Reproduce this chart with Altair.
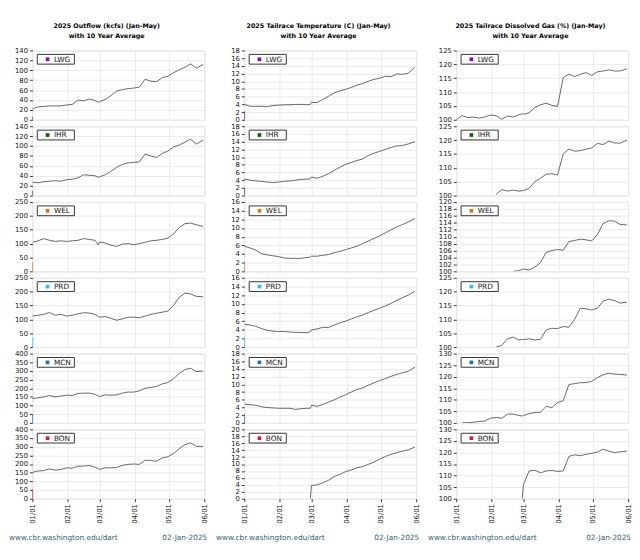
import altair as alt
import pandas as pd

DATES = ["2025-01-01", "2025-01-06", "2025-01-11", "2025-01-16", "2025-01-21", "2025-01-26", "2025-01-31",
         "2025-02-05", "2025-02-10", "2025-02-15", "2025-02-20", "2025-02-25", "2025-02-28",
         "2025-03-01", "2025-03-06", "2025-03-11", "2025-03-16", "2025-03-21", "2025-03-26", "2025-03-31",
         "2025-04-05", "2025-04-10", "2025-04-15", "2025-04-20", "2025-04-25", "2025-04-30",
         "2025-05-05", "2025-05-10", "2025-05-15", "2025-05-20", "2025-05-25", "2025-05-31"]

SITES = ["LWG", "IHR", "WEL", "PRD", "MCN", "BON"]
SITE_COLORS = ["#9400d3", "#006400", "#e8700a", "#1ec0ff", "#1a6fb5", "#dc143c"]

N = None
OUT_LWG = [22, 26, 27, 28, 28, 28, 30, 31, 40, 38, 42, 39, 35, 37, 41, 49, 58, 61, 63, 64, 66, 82, 78, 77, 85, 88, 95, 101, 106, 113, 104, 112]
OUT_IHR = [27, 26, 28, 29, 30, 29, 32, 33, 36, 42, 41, 40, 37, 38, 42, 49, 57, 63, 66, 67, 68, 84, 80, 77, 85, 90, 98, 102, 108, 114, 104, 112]
OUT_WEL = [105, 110, 118, 112, 108, 110, 108, 110, 112, 118, 115, 112, 95, 106, 102, 94, 90, 98, 100, 96, 100, 105, 110, 112, 115, 120, 135, 158, 172, 174, 168, 162]
OUT_PRD = [112, 115, 118, 125, 115, 118, 112, 115, 120, 124, 123, 118, 110, 108, 110, 104, 97, 102, 108, 108, 106, 112, 118, 122, 126, 130, 150, 180, 195, 192, 183, 182]
OUT_MCN = [140, 145, 150, 158, 150, 155, 160, 158, 170, 172, 172, 165, 155, 152, 162, 160, 162, 172, 178, 178, 185, 200, 205, 210, 225, 233, 255, 285, 308, 315, 296, 300]
OUT_BON = [152, 160, 162, 172, 165, 168, 178, 176, 188, 188, 192, 182, 172, 170, 178, 178, 180, 192, 198, 200, 198, 222, 220, 216, 235, 242, 260, 288, 312, 322, 302, 302]

TEMP_LWG = [4.0, 3.5, 3.5, 3.5, 3.4, 3.7, 3.8, 3.9, 3.9, 4.0, 4.0, 3.9, 4.0, 4.5, 4.5, 5.3, 6.1, 7.0, 7.5, 7.9, 8.4, 9.0, 9.4, 10.0, 10.5, 10.8, 11.3, 11.2, 11.9, 11.8, 12.1, 13.6]
TEMP_IHR = [4.3, 4.0, 3.8, 3.7, 3.5, 3.4, 3.5, 3.7, 3.8, 4.0, 4.2, 4.3, 4.3, 4.8, 4.5, 5.0, 5.7, 6.5, 7.4, 8.1, 8.6, 9.1, 9.5, 10.4, 11.0, 11.5, 12.0, 12.5, 12.9, 13.0, 13.4, 14.0]
TEMP_WEL = [5.8, 5.4, 4.9, 4.1, 3.8, 3.6, 3.4, 3.1, 3.0, 3.0, 3.0, 3.2, 3.3, 3.5, 3.5, 3.7, 3.9, 4.3, 4.6, 5.0, 5.4, 5.8, 6.4, 7.0, 7.6, 8.2, 8.9, 9.6, 10.3, 10.8, 11.4, 12.2]
TEMP_PRD = [5.3, 5.1, 4.8, 4.3, 3.9, 3.7, 3.6, 3.6, 3.5, 3.4, 3.4, 3.3, 3.6, 4.0, 4.2, 4.6, 4.5, 5.1, 5.6, 6.0, 6.5, 7.0, 7.4, 8.0, 8.5, 9.0, 9.5, 10.1, 10.8, 11.4, 12.0, 12.9]
TEMP_MCN = [4.9, 4.7, 4.6, 4.2, 4.0, 3.9, 3.8, 3.8, 3.8, 3.5, 3.7, 3.8, 3.8, 4.6, 4.3, 4.8, 5.4, 6.0, 6.7, 7.3, 8.0, 8.7, 9.1, 9.8, 10.4, 11.0, 11.5, 12.1, 12.6, 13.0, 13.4, 14.5]
TEMP_BON = [N, N, N, N, N, N, N, N, N, N, N, N, 0.0, 3.8, 4.0, 4.6, 5.3, 6.4, 7.0, 7.8, 8.3, 8.9, 9.3, 9.9, 10.6, 11.4, 12.2, 12.8, 13.3, 13.7, 14.1, 14.9]

GAS_LWG = [100.0, 101.5, 100.8, 101.0, 100.6, 101.0, 101.7, 101.5, 100.2, 101.4, 101.0, 101.8, 102.2, 102.0, 102.5, 104.4, 105.4, 106.0, 105.2, 104.8, 115.2, 116.5, 115.6, 116.4, 117.0, 116.0, 117.3, 117.6, 118.0, 117.6, 117.6, 118.4]
GAS_IHR = [N, N, N, N, N, N, N, 100.4, 102.2, 101.6, 102.0, 101.6, 101.8, 101.8, 102.6, 105.0, 106.2, 107.7, 107.9, 107.4, 115.0, 116.8, 116.0, 116.2, 116.7, 117.2, 118.8, 118.4, 119.6, 119.0, 118.9, 120.0]
GAS_WEL = [N, N, N, N, N, N, N, N, N, N, 100.0, 100.2, 100.6, 100.7, 100.4, 101.2, 102.5, 105.5, 106.0, 106.3, 106.1, 108.6, 108.9, 109.3, 109.1, 108.8, 110.6, 113.8, 114.6, 114.5, 113.5, 113.4]
GAS_PRD = [N, N, N, N, N, N, N, 100.0, 100.6, 103.0, 103.6, 102.6, 102.8, 102.7, 103.0, 102.6, 102.8, 106.2, 106.8, 106.7, 107.4, 107.2, 110.0, 114.0, 113.8, 113.4, 114.0, 116.6, 117.3, 116.8, 115.9, 116.2]
GAS_MCN = [N, 100.0, 100.1, 100.3, 100.6, 100.8, 102.0, 102.4, 102.0, 103.8, 103.8, 103.2, 103.0, 103.2, 104.0, 104.5, 104.6, 107.2, 106.6, 108.8, 109.6, 116.6, 117.0, 117.4, 117.4, 118.0, 119.6, 120.8, 121.5, 121.1, 121.0, 120.7]
GAS_BON = [N, N, N, N, N, N, N, N, N, N, N, N, 100.0, 106.0, 112.0, 112.3, 111.2, 112.0, 112.2, 111.8, 112.0, 118.3, 119.0, 118.6, 119.2, 119.6, 120.2, 121.4, 120.6, 120.0, 120.3, 120.6]

# short coloured 10-year-average stub at 01/01 (None = not shown)
STUB_OUT = [6, 10, 35, 35, 45, 53]
STUB_TEMP = [2.2, 2.0, 2.2, 2.2, 2.4, None]
STUB_GAS = [None, None, None, None, None, None]

OUT_TICKS = [[0, 20, 40, 60, 80, 100, 120, 140], [0, 20, 40, 60, 80, 100, 120, 140],
             [0, 50, 100, 150, 200, 250], [0, 50, 100, 150, 200, 250],
             [0, 50, 100, 150, 200, 250, 300, 350, 400], [0, 50, 100, 150, 200, 250, 300, 350, 400]]
TEMP_TICKS = [list(range(0, 19, 2)), list(range(0, 19, 2)), list(range(0, 17, 2)),
              list(range(0, 17, 2)), list(range(0, 19, 2)), list(range(0, 21, 2))]
GAS_TICKS = [[100, 105, 110, 115, 120, 125], [100, 105, 110, 115, 120, 125],
             list(range(100, 121, 2)), [100, 105, 110, 115, 120, 125],
             [100, 105, 110, 115, 120, 125, 130], [100, 105, 110, 115, 120, 125, 130]]

TITLES = [["2025 Outflow (kcfs) (Jan-May)", "with 10 Year Average"],
          ["2025 Tailrace Temperature (C) (Jan-May)", "with 10 Year Average"],
          ["2025 Tailrace Dissolved Gas (%) (Jan-May)", "with 10 Year Average"]]
FOOT_LEFT = "www.cbr.washington.edu/dart"
FOOT_RIGHT = "02-Jan-2025"

COLUMNS = [
    ([OUT_LWG, OUT_IHR, OUT_WEL, OUT_PRD, OUT_MCN, OUT_BON], OUT_TICKS, STUB_OUT),
    ([TEMP_LWG, TEMP_IHR, TEMP_WEL, TEMP_PRD, TEMP_MCN, TEMP_BON], TEMP_TICKS, STUB_TEMP),
    ([GAS_LWG, GAS_IHR, GAS_WEL, GAS_PRD, GAS_MCN, GAS_BON], GAS_TICKS, STUB_GAS),
]

W, H = 176, 71
FONT = "DejaVu Sans"
GRID = "#e9e9e9"
MONTHS = [alt.DateTime(year=2025, month=m, date=1) for m in range(1, 7)]
XDOM = [MONTHS[0], MONTHS[-1]]
ONE = pd.DataFrame({"k": [0]})


def panel(ci, ri):
    series_list, ticks_list, stubs = COLUMNS[ci]
    vals = series_list[ri]
    ticks = ticks_list[ri]
    site = SITES[ri]
    color = SITE_COLORS[ri]
    df = pd.DataFrame({"date": pd.to_datetime(DATES), "value": vals}).dropna()
    bottom = ri == len(SITES) - 1
    if bottom:
        xaxis = alt.Axis(values=MONTHS, format="%m/%d", labelAngle=270, labelFontSize=7,
                         labelColor="#111", labelFont=FONT, tickSize=3, tickColor="#333",
                         labelPadding=2, domain=False, grid=True, gridColor=GRID,
                         labelFlush=False, labelOverlap=False, title=None)
    else:
        xaxis = alt.Axis(values=MONTHS, labels=False, ticks=False, domain=False,
                         grid=True, gridColor=GRID, title=None)
    yaxis = alt.Axis(values=ticks, labelFontSize=7, labelColor="#111", labelFont=FONT,
                     tickSize=3, tickColor="#333", labelPadding=2, domain=False,
                     grid=True, gridColor=GRID, labelOverlap=False, labelFlush=False,
                     labelBound=False, title=None)
    xs = alt.Scale(domain=XDOM)
    ys = alt.Scale(domain=[ticks[0], ticks[-1]], nice=False, zero=False)

    line = alt.Chart(df).mark_line(color="#555555", strokeWidth=0.9, clip=True).encode(
        x=alt.X("date:T", scale=xs, axis=xaxis),
        y=alt.Y("value:Q", scale=ys, axis=yaxis),
    )
    layers = [line]
    if stubs[ri] is not None:
        sdf = pd.DataFrame({"date": pd.to_datetime([DATES[0]]), "value": [ticks[0]], "hi": [stubs[ri]]})
        layers.append(alt.Chart(sdf).mark_rule(color=color, strokeWidth=1.3, clip=True).encode(
            x=alt.X("date:T", scale=xs, axis=xaxis),
            y=alt.Y("value:Q", scale=ys, axis=yaxis),
            y2="hi:Q"))
    layers.append(alt.Chart(ONE).mark_rect(fill="white", stroke="#333333", strokeWidth=1).encode(
        x=alt.value(5), x2=alt.value(43), y=alt.value(4), y2=alt.value(14)))
    layers.append(alt.Chart(ONE).mark_square(size=14, color=color, opacity=1).encode(
        x=alt.value(15.5), y=alt.value(9)))
    layers.append(alt.Chart(ONE).mark_text(align="left", baseline="middle", fontSize=7.5,
                                           font=FONT, color="#111").encode(
        x=alt.value(22), y=alt.value(9.5), text=alt.value(site)))
    if bottom:
        fx = -24 if ci == 0 else -29
        layers.append(alt.Chart(ONE).mark_text(align="left", baseline="middle", fontSize=7.5,
                                               font=FONT, color="#2f6077").encode(
            x=alt.value(fx), y=alt.value(H + 40), text=alt.value(FOOT_LEFT)))
        layers.append(alt.Chart(ONE).mark_text(align="right", baseline="middle", fontSize=7.5,
                                               font=FONT, color="#2f6077").encode(
            x=alt.value(W + 3), y=alt.value(H + 40), text=alt.value(FOOT_RIGHT)))
    props = dict(width=W, height=H)
    if ri == 0:
        props["title"] = alt.Title(TITLES[ci], fontSize=6.5, font=FONT, fontWeight="bold",
                                   color="#000", lineHeight=11, offset=7, dx=-12,
                                   anchor="middle")
    return alt.layer(*layers).properties(**props)


cols = [alt.vconcat(*[panel(ci, ri) for ri in range(len(SITES))], spacing=6.6, bounds="flush")
        for ci in range(3)]

chart = alt.hconcat(*cols, spacing=7).properties(
    padding={"left": 0, "top": 8, "right": 0, "bottom": 0}
).configure_view(stroke="#333333", strokeWidth=1.5).configure(font=FONT)

chart.save("out.html", embed_options={"renderer": "svg", "actions": False})
